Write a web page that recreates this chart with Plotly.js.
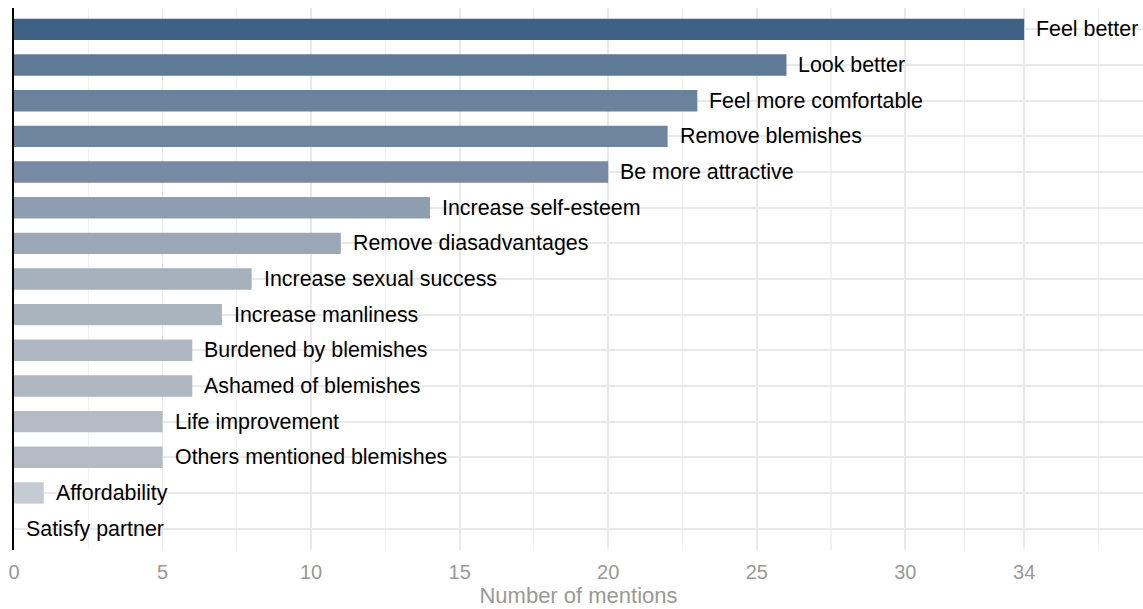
<!DOCTYPE html>
<html>
<head>
<meta charset="utf-8">
<script src="https://cdn.plot.ly/plotly-3.0.1.min.js"></script>
<style>html,body{margin:0;padding:0;background:#fff;}#chart{width:1143px;height:609px;}</style>
</head>
<body>
<div id="chart"></div>
<script>
const categories = ["Feel better","Look better","Feel more comfortable","Remove blemishes","Be more attractive","Increase self-esteem","Remove diasadvantages","Increase sexual success","Increase manliness","Burdened by blemishes","Ashamed of blemishes","Life improvement","Others mentioned blemishes","Affordability","Satisfy partner"];
const mentions = [34,26,23,22,20,14,11,8,7,6,6,5,5,1,0];
const majorTicks = [0,5,10,15,20,25,30,34];
const majorTickLabels = ["0","5","10","15","20","25","30","34"];
const minorTicks = [2.5,7.5,12.5,17.5,22.5,27.5,32,36.5];

const fillScale = [
  [0, "#cdd2d8"],
  [1/34, "#c5cbd2"],
  [5/34, "#b3bbc4"],
  [8/34, "#a5b0bd"],
  [14/34, "#8e9eb0"],
  [20/34, "#7789a3"],
  [26/34, "#5f7a96"],
  [1, "#3e6285"]
];

const trace = {
  type: "bar",
  orientation: "h",
  x: mentions,
  y: categories,
  width: 0.6,
  marker: {color: mentions, colorscale: fillScale, cmin: 0, cmax: 34, showscale: false, line: {width: 0}},
  hoverinfo: "x+y"
};

const annotations = categories.map((c, i) => ({
  x: mentions[i], y: c, xref: "x", yref: "y",
  text: c, showarrow: false, xanchor: "left", yanchor: "middle",
  xshift: 10, font: {family: "Liberation Sans, Arial, sans-serif", size: 21.4, color: "#000"}
}));

const layout = {
  width: 1143, height: 609,
  margin: {l: 14, r: 0, t: 8, b: 59},
  paper_bgcolor: "#fff", plot_bgcolor: "#fff",
  showlegend: false,
  bargap: 0.4,
  xaxis: {
    range: [0, 38], fixedrange: true,
    tickmode: "array", tickvals: majorTicks, ticktext: majorTickLabels,
    showgrid: true, gridcolor: "#e9e9e9", gridwidth: 1.8,
    zeroline: false, showline: false,
    ticks: "outside", ticklen: 4, tickcolor: "rgba(0,0,0,0)",
    tickfont: {family: "Liberation Sans, Arial, sans-serif", size: 20, color: "#999999"},
    minor: {tickmode: "array", tickvals: minorTicks, showgrid: true, gridcolor: "#f1f1f1", gridwidth: 1.1, ticks: ""},
    title: {text: "Number of mentions", standoff: 5, font: {family: "Liberation Sans, Arial, sans-serif", size: 22, color: "#999999"}}
  },
  yaxis: {
    type: "category",
    categoryorder: "array", categoryarray: categories.slice().reverse(),
    range: [-0.6, 14.6], fixedrange: true,
    showticklabels: false, ticks: "",
    showgrid: true, gridcolor: "#e9e9e9", gridwidth: 1.8,
    zeroline: false,
    showline: true, linecolor: "#000", linewidth: 2.2
  },
  annotations: annotations
};

Plotly.newPlot("chart", [trace], layout, {displayModeBar: false, staticPlot: true});
</script>
</body>
</html>
